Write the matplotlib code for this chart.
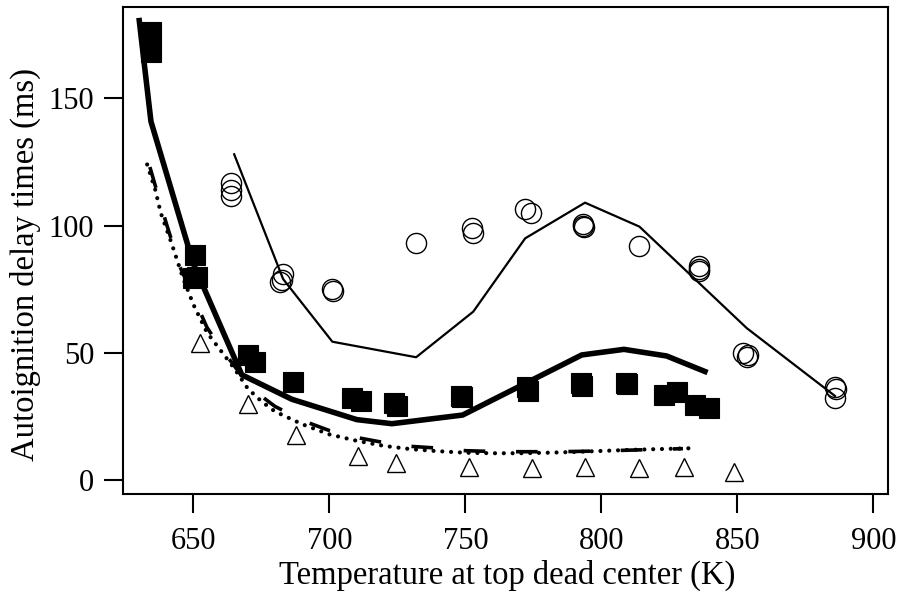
import matplotlib.pyplot as plt

plt.rcParams['font.family'] = ['Liberation Serif', 'DejaVu Serif']

# measured delay times, filled squares
sq_T = [634.6, 634.6, 650.5, 651.5, 649.8, 670.0, 672.5, 686.8, 708.3, 711.8,
        723.6, 724.8, 748.3, 748.8, 772.5, 773.0, 792.5, 792.9, 809.0, 809.6,
        823.0, 828.0, 834.6, 839.5]
sq_tau = [176, 168, 88.5, 80, 79.5, 49, 46.5, 38.4, 32.3, 31.2,
          30.4, 29.2, 33.2, 32.5, 36.5, 35.2, 38.2, 37.1, 38.2, 37.8,
          33.5, 34.8, 29.4, 28.3]

# measured delay times, open circles
ci_T = [664, 664, 664, 683.1, 682.4, 682.0, 701.5, 700.9, 731.9, 752.5, 752.8,
        772.0, 774.0, 793.2, 793.6, 793.4, 813.9, 836.0, 836.0, 835.8,
        852.2, 853.5, 853.9, 885.9, 885.9, 886.2]
ci_tau = [116.8, 114, 111.5, 81, 78.7, 78, 74.3, 75, 93.1, 99, 97,
          106.4, 105.1, 100.7, 99.4, 99.9, 91.8, 84.2, 83, 82,
          50.1, 48.5, 49.2, 36.5, 32.2, 36]

# measured delay times, open triangles
tr_T = [652.3, 670.1, 687.9, 710.6, 724.6, 751.4, 774.4, 794.0, 813.7, 830.5, 848.9]
tr_tau = [53.7, 30.1, 17.7, 9.5, 6.7, 5.1, 4.7, 5.1, 4.7, 5.3, 3.1]

# model curves
thick_T = [630.1, 634.4, 650.0, 667.8, 686.2, 710.1, 723.0, 749.0, 792.8, 808.3, 824.0, 838.1]
thick_tau = [180.5, 140.9, 85.0, 41.4, 31.8, 23.8, 22.2, 25.6, 49.2, 51.4, 48.8, 42.7]

thin_T = [665.0, 683.0, 701.1, 731.9, 752.9, 772.0, 794.0, 814.0, 853.5, 885.9]
thin_tau = [128.0, 79.0, 54.4, 48.3, 66.2, 95.0, 109.0, 99.6, 59.7, 33.1]

dot_T = [633, 636, 638, 642, 646, 650, 655, 660, 665, 670, 675, 680, 690, 700,
         710, 720, 730, 740, 750, 760, 770, 780, 790, 800, 810, 820, 834.5]
dot_tau = [124, 114, 105, 93, 80, 69, 58, 51, 44, 36, 31, 27, 22, 18,
           15.5, 13.5, 12.2, 11.4, 10.8, 10.6, 10.6, 10.8, 11.1, 11.5, 11.9, 12.2, 12.6]

dash_T = [634, 640, 645, 650, 655, 660, 665, 670, 675, 680, 690, 700, 710, 720,
          730, 740, 750, 760, 770, 780, 790, 800, 810, 820, 830]
dash_tau = [123, 101, 84, 72, 60, 52, 45, 38, 33, 29, 23.5, 19.5, 16.8, 14.8,
            13.3, 12.6, 11.6, 11.3, 11.2, 11.2, 11.3, 11.5, 11.8, 12.1, 12.4]

fig = plt.figure(figsize=(9.04, 6), dpi=100)
ax = fig.add_axes([0.1366, 0.1767, 0.846, 0.811])

ax.plot(thin_T, thin_tau, color='black', lw=1.6)
ax.plot(thick_T, thick_tau, color='black', lw=4)
ax.plot(dash_T, dash_tau, color='black', lw=2.6, dashes=(6, 8.5))
ax.plot(dot_T, dot_tau, color='black', lw=3, linestyle=(0, (0.01, 2.1)),
        dash_capstyle='round')

ax.plot(sq_T, sq_tau, 's', ms=15, color='black', mew=0.8)
ax.plot(ci_T, ci_tau, 'o', ms=14.5, mfc='none', mec='black', mew=1)
ax.plot(tr_T, tr_tau, '^', ms=13.5, mfc='white', mec='black', mew=1)

ax.set_xlim(624.3, 905.5)
ax.set_ylim(-5.4, 185.7)
ax.set_xticks([650, 700, 750, 800, 850, 900])
ax.set_yticks([0, 50, 100, 150])
ax.tick_params(direction='out', length=14, width=1.5, labelsize=22)
ax.tick_params(axis='x', pad=10)
ax.tick_params(axis='y', pad=7)
for s in ax.spines.values():
    s.set_linewidth(1.5)

ax.set_xlabel("Temperature at top dead center (K)", fontsize=23.5)
ax.set_ylabel("Autoignition delay times (ms)", fontsize=23.5)
ax.xaxis.set_label_coords(0.5023, -0.1357)
ax.yaxis.set_label_coords(-0.108, 0.4707)

plt.savefig("out.png", dpi=100)
